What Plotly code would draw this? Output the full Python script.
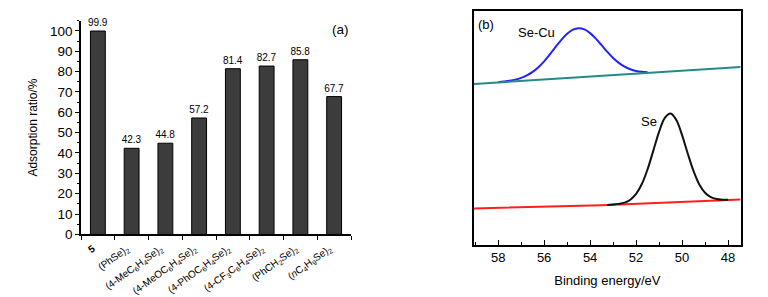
import plotly.graph_objects as go

# ---------------- data: panel (a) ----------------
categories = ["5", "(PhSe)2", "(4-MeC6H4Se)2", "(4-MeOC6H4Se)2",
              "(4-PhOC6H4Se)2", "(4-CF3C6H4Se)2", "(PhCH2Se)2", "(nC4H9Se)2"]
tick_labels = ["<b>5</b>", "(PhSe)<sub>2</sub>",
               "(4-MeC<sub>6</sub>H<sub>4</sub>Se)<sub>2</sub>",
               "(4-MeOC<sub>6</sub>H<sub>4</sub>Se)<sub>2</sub>",
               "(4-PhOC<sub>6</sub>H<sub>4</sub>Se)<sub>2</sub>",
               "(4-CF<sub>3</sub>C<sub>6</sub>H<sub>4</sub>Se)<sub>2</sub>",
               "(PhCH<sub>2</sub>Se)<sub>2</sub>",
               "(<i>n</i>C<sub>4</sub>H<sub>9</sub>Se)<sub>2</sub>"]
adsorption = [99.9, 42.3, 44.8, 57.2, 81.4, 82.7, 85.8, 67.7]
y_ticks_a = [0, 10, 20, 30, 40, 50, 60, 70, 80, 90, 100]

# ---------------- data: panel (b) (intensity, a.u.) ----------------
be_bg_top = [59.05, 47.45]
int_bg_top = [165.3, 182.6]

be_secu = [58.0, 57.75, 57.5, 57.25, 57.0, 56.75, 56.5, 56.25, 56.0, 55.75,
           55.5, 55.25, 55.0, 54.75, 54.5, 54.25, 54.0, 53.75, 53.5, 53.25,
           53.0, 52.75, 52.5, 52.25, 52.0, 51.75, 51.5]
int_secu = [167.1, 167.7, 168.5, 169.7, 171.5, 174.0, 177.6, 182.5, 188.5, 195.6,
            203.3, 210.6, 216.8, 221.0, 222.6, 221.3, 217.5, 211.8, 205.1, 198.2,
            192.0, 186.9, 183.0, 180.3, 178.6, 177.7, 177.4]

be_bg_bottom = [59.05, 53.5, 47.45]
int_bg_bottom = [37.3, 40.6, 46.6]

be_se = [53.25, 53.0, 52.75, 52.5, 52.25, 52.0, 51.75, 51.5, 51.25, 51.0,
         50.75, 50.5, 50.25, 50.0, 49.75, 49.5, 49.25, 49.0, 48.75, 48.5,
         48.25, 48.0]
int_se = [40.9, 41.3, 42.0, 43.3, 46.3, 52.2, 62.4, 77.6, 96.7, 116.0,
          130.4, 134.9, 128.2, 112.7, 93.5, 75.6, 62.0, 53.5, 48.9, 47.0,
          46.3, 46.2]
x_ticks_b = [58, 56, 54, 52, 50, 48]

FONT = "Arial, Liberation Sans, sans-serif"
W, H = 768, 297

fig = go.Figure()

fig.add_trace(go.Bar(
    x=categories, y=adsorption, width=0.44,
    marker=dict(color="#3c3c3c", line=dict(color="#000000", width=1)),
    text=[f"{v:.1f}" for v in adsorption], textposition="outside",
    textfont=dict(size=10, color="#000000", family=FONT),
    constraintext="none", cliponaxis=False,
    xaxis="x", yaxis="y", showlegend=False))

fig.add_trace(go.Scatter(x=be_secu, y=int_secu, mode="lines",
                         line=dict(color="#2222ff", width=2, shape="spline"),
                         xaxis="x2", yaxis="y2", showlegend=False))
fig.add_trace(go.Scatter(x=be_bg_top, y=int_bg_top, mode="lines",
                         line=dict(color="#238a88", width=2),
                         xaxis="x2", yaxis="y2", showlegend=False))
fig.add_trace(go.Scatter(x=be_bg_bottom, y=int_bg_bottom, mode="lines",
                         line=dict(color="#ff1f1f", width=2),
                         xaxis="x2", yaxis="y2", showlegend=False))
fig.add_trace(go.Scatter(x=be_se, y=int_se, mode="lines",
                         line=dict(color="#111111", width=2, shape="spline"),
                         xaxis="x2", yaxis="y2", showlegend=False))


def ann(text, px, py, size=13):
    return dict(text=text, x=px / W, y=1 - py / H, xref="paper", yref="paper",
                xanchor="center", yanchor="middle", showarrow=False,
                font=dict(size=size))


fig.update_layout(
    width=W, height=H,
    margin=dict(l=0, r=0, t=0, b=0),
    paper_bgcolor="white", plot_bgcolor="white",
    font=dict(family=FONT, color="#000000"),
    xaxis=dict(domain=[73 / W, 343 / W], range=[-0.5, 7.5],
               tickmode="array", tickvals=categories, ticktext=tick_labels,
               tickangle=-36, tickfont=dict(size=10), tickson="boundaries",
               ticklabelshift=-5, ticklabelstandoff=3,
               ticks="outside", ticklen=4, tickcolor="#000000",
               showline=True, linecolor="#000000", linewidth=1.5,
               showgrid=False, zeroline=False, anchor="y"),
    yaxis=dict(domain=[1 - 232.7 / H, 1 - 13 / H], range=[0, 105],
               tickmode="array", tickvals=y_ticks_a,
               tickfont=dict(size=13.5), ticks="outside", ticklen=4,
               tickcolor="#000000",
               minor=dict(dtick=5, tick0=0, ticks="outside", ticklen=2.5,
                          tickcolor="#000000", showgrid=False),
               showline=True, linecolor="#000000", linewidth=1.5,
               showgrid=False, zeroline=False, anchor="x",
               title=dict(text="Adsorption ratio/%", font=dict(size=12),
                          standoff=10)),
    xaxis2=dict(domain=[466 / W, 732.7 / W], range=[59.05, 47.45],
                tickmode="array", tickvals=x_ticks_b, tickfont=dict(size=13),
                ticks="inside", ticklen=5, tickcolor="#000000",
                minor=dict(dtick=1, tick0=47, ticks="inside", ticklen=3,
                           tickcolor="#000000", showgrid=False),
                showline=True, mirror=True, linecolor="#000000", linewidth=1.8,
                showgrid=False, zeroline=False, anchor="y2",
                title=dict(text="Binding energy/eV", font=dict(size=13),
                           standoff=12)),
    yaxis2=dict(domain=[1 - 243.3 / H, 1 - 3 / H], range=[0, 240.3],
                showticklabels=False, ticks="",
                showline=True, mirror=True, linecolor="#000000", linewidth=1.8,
                showgrid=False, zeroline=False, anchor="x2"),
    annotations=[
        ann("(a)", 332, 22, 13.5),
        ann("(b)", 478, 17, 13),
        ann("Se-Cu", 528, 25, 13),
        ann("Se", 641, 117, 13),
    ],
)

fig.write_html("out.html")
